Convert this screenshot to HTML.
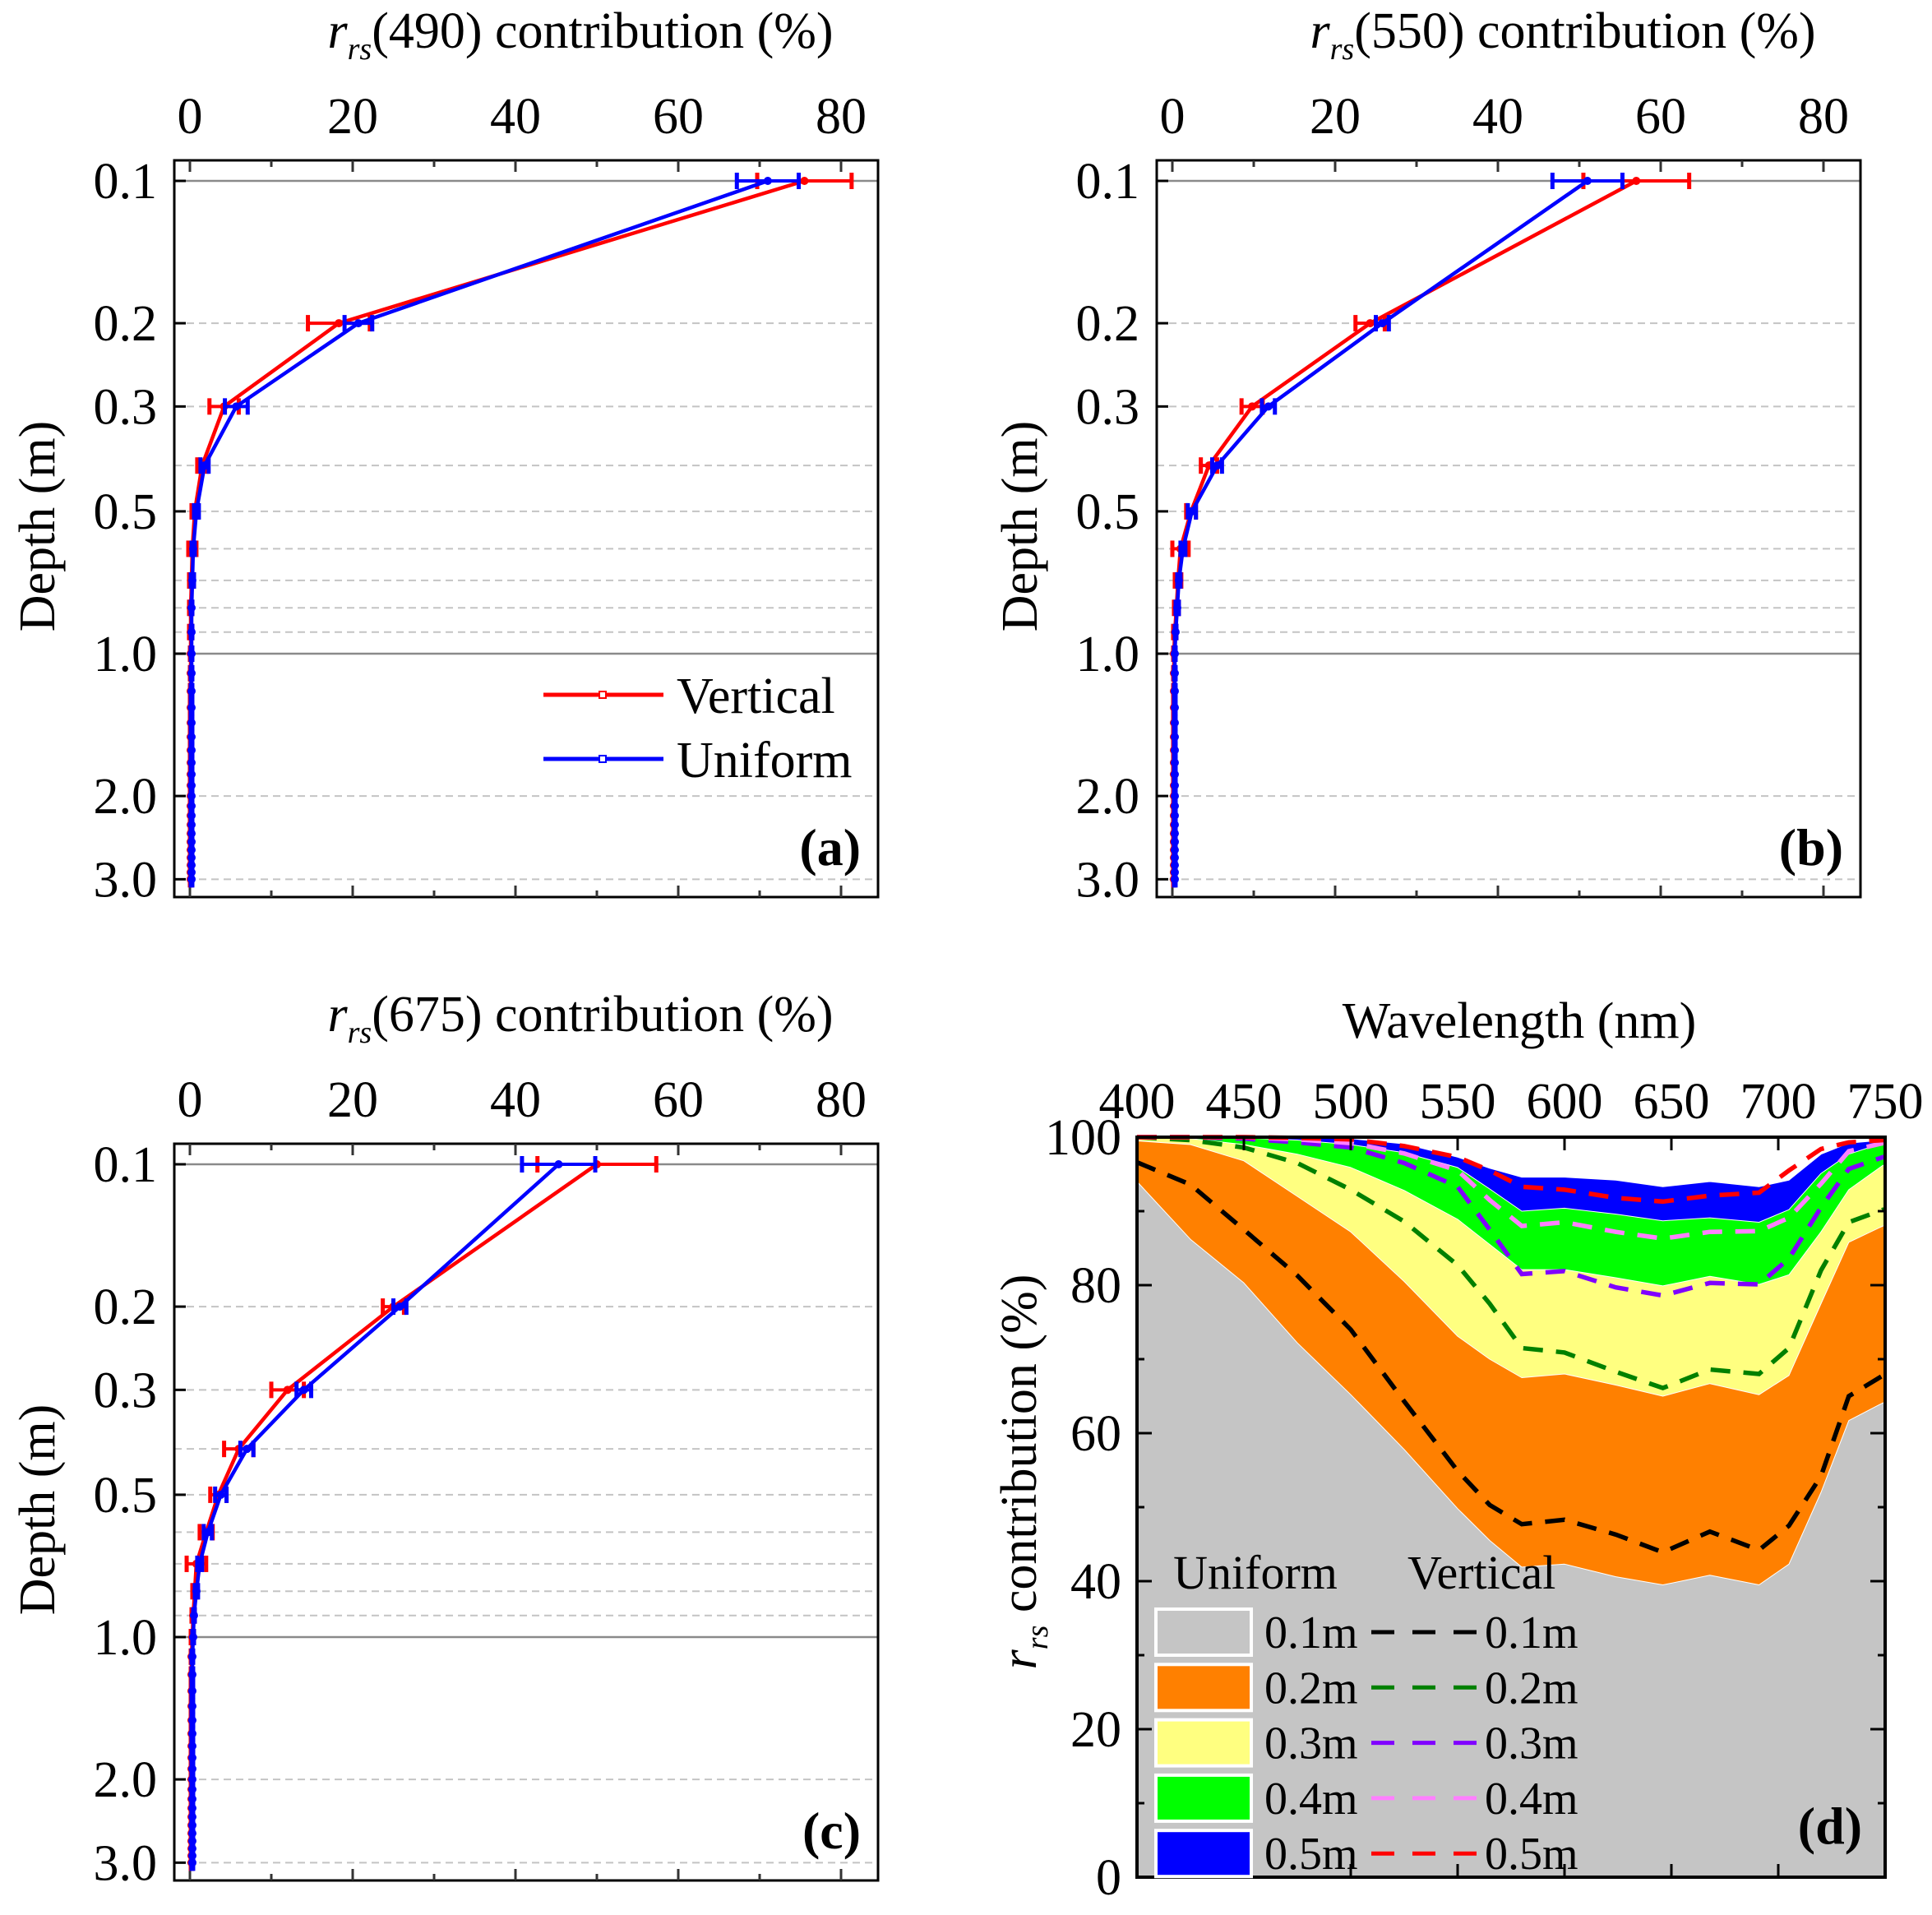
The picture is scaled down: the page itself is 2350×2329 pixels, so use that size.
<!DOCTYPE html>
<html><head><meta charset="utf-8">
<style>
html,body{margin:0;padding:0;background:#fff;}
svg{display:block;font-family:"Liberation Serif","DejaVu Serif",serif;}
</style></head>
<body>
<svg id="fig" xmlns="http://www.w3.org/2000/svg" width="2350" height="2329" viewBox="0 0 2350 2329">
<rect x="0" y="0" width="2350" height="2329" fill="#fff"/>
</svg>
<script>
// ---------- depth profile data ----------
const depths = [0.1,0.2,0.3,0.4,0.5,0.6,0.7,0.8,0.9,1.0,1.1,1.2,1.3,1.4,1.5,1.6,1.7,1.8,1.9,2.0,2.1,2.2,2.3,2.4,2.5,2.6,2.7,2.8,2.9,3.0];
const depthTickValues = [0.1,0.2,0.3,0.5,1.0,2.0,3.0];
const depthTickLabels = ["0.1","0.2","0.3","0.5","1.0","2.0","3.0"];
const contribTickValues = [0,20,40,60,80];
const contribTickLabels = ["0","20","40","60","80"];

const a490Vertical = [75.5,18.3,4.2,1.5,0.6,0.3,0.2,0.1,0.1,0.1,0.1,0.1,0.1,0.1,0.1,0.1,0.1,0.1,0.1,0.1,0.1,0.1,0.1,0.1,0.1,0.1,0.1,0.1,0.1,0.1];
const a490VerticalErr = [5.8,3.8,1.8,0.6,0.4,0.5,0.3,0.2,0.2,0.1,0.1,0.1,0.1,0.1,0.1,0.1,0.1,0.1,0.1,0.1,0.1,0.1,0.1,0.1,0.1,0.1,0.1,0.1,0.1,0.1];
const a490Uniform = [71,20.7,5.7,1.8,0.8,0.4,0.3,0.2,0.2,0.2,0.2,0.2,0.2,0.2,0.2,0.2,0.2,0.2,0.2,0.2,0.2,0.2,0.2,0.2,0.2,0.2,0.2,0.2,0.2,0.2];
const a490UniformErr = [3.8,1.7,1.4,0.5,0.3,0.2,0.2,0.1,0.1,0.1,0.1,0.1,0.1,0.1,0.1,0.1,0.1,0.1,0.1,0.1,0.1,0.1,0.1,0.1,0.1,0.1,0.1,0.1,0.1,0.1];

const b550Vertical = [57,24.3,9.8,4.5,2.3,1.0,0.7,0.5,0.3,0.2,0.2,0.2,0.2,0.2,0.2,0.2,0.2,0.2,0.2,0.2,0.2,0.2,0.2,0.2,0.2,0.2,0.2,0.2,0.2,0.2];
const b550VerticalErr = [6.5,1.8,1.3,1.0,0.6,1.0,0.4,0.3,0.2,0.1,0.1,0.1,0.1,0.1,0.1,0.1,0.1,0.1,0.1,0.1,0.1,0.1,0.1,0.1,0.1,0.1,0.1,0.1,0.1,0.1];
const b550Uniform = [51,25.8,11.8,5.5,2.4,1.3,0.8,0.6,0.4,0.3,0.3,0.3,0.3,0.3,0.3,0.3,0.3,0.3,0.3,0.3,0.3,0.3,0.3,0.3,0.3,0.3,0.3,0.3,0.3,0.3];
const b550UniformErr = [4.3,0.8,0.8,0.6,0.5,0.3,0.2,0.2,0.1,0.1,0.1,0.1,0.1,0.1,0.1,0.1,0.1,0.1,0.1,0.1,0.1,0.1,0.1,0.1,0.1,0.1,0.1,0.1,0.1,0.1];

const c675Vertical = [50,25,12,6,3.5,2,0.8,0.6,0.4,0.3,0.2,0.2,0.2,0.2,0.2,0.2,0.2,0.2,0.2,0.2,0.2,0.2,0.2,0.2,0.2,0.2,0.2,0.2,0.2,0.2];
const c675VerticalErr = [7.3,1.3,2,1.8,1,0.8,1.2,0.3,0.2,0.2,0.1,0.1,0.1,0.1,0.1,0.1,0.1,0.1,0.1,0.1,0.1,0.1,0.1,0.1,0.1,0.1,0.1,0.1,0.1,0.1];
const c675Uniform = [45.3,25.8,14,7,3.8,2.2,1.2,0.8,0.5,0.4,0.3,0.3,0.3,0.3,0.3,0.3,0.3,0.3,0.3,0.3,0.3,0.3,0.3,0.3,0.3,0.3,0.3,0.3,0.3,0.3];
const c675UniformErr = [4.5,0.8,0.9,0.8,0.7,0.5,0.3,0.2,0.1,0.1,0.1,0.1,0.1,0.1,0.1,0.1,0.1,0.1,0.1,0.1,0.1,0.1,0.1,0.1,0.1,0.1,0.1,0.1,0.1,0.1];

// ---------- spectral data (panel d) ----------
const wavelengths = [400,425,450,475,500,525,550,565,580,600,624,646,668,691,705,720,733,749];
const uniform01 = [94.0,86.2,80.3,72.2,65.2,57.8,49.8,45.5,41.9,42.3,40.6,39.5,40.8,39.5,42.3,52.0,61.7,64.1];
const uniform02 = [99.5,99.0,96.8,92.0,87.2,80.5,73.1,70.0,67.5,68.0,66.5,65.0,66.7,65.2,67.8,77.5,85.8,88.0];
const uniform03 = [100,99.8,99.0,97.7,95.9,92.8,88.9,85.5,82.1,82.1,81.0,79.9,81.2,80.1,81.4,87.2,92.9,96.2];
const uniform04 = [100,100,99.9,99.6,99.0,97.9,95.9,93.0,90.0,90.4,89.6,88.7,89.1,88.5,90.2,95.1,97.7,99.2];
const uniform05 = [100,100,100,100,99.8,99.1,97.3,95.8,94.6,94.6,94.2,93.3,94.0,93.3,94.2,97.7,99.2,99.6];
const vertical01 = [96.6,93.6,87.5,81.3,74.0,64.3,54.9,50.3,47.7,48.3,46.3,43.9,46.7,44.2,47.5,54.2,65.0,67.8];
const vertical02 = [100,99.6,98.6,96.5,92.9,88.6,82.7,77.5,71.5,70.9,68.3,66.1,68.6,68.0,71.5,82.0,88.5,90.2];
const vertical03 = [100,100,99.8,99.3,98.6,96.5,93.3,87.5,81.5,81.9,79.7,78.6,80.3,80.1,83.6,90.5,95.7,97.3];
const vertical04 = [100,100,100,99.7,99.2,97.8,95.5,91.5,88.0,88.5,87.2,86.3,87.2,87.3,89.1,93.7,98.1,99.2];
const vertical05 = [100,100,100,99.9,99.7,98.8,97.3,95.5,93.3,92.9,91.8,91.3,92.1,92.5,95.5,98.4,99.3,99.6];
const wlTickValues = [400,450,500,550,600,650,700,750];
const wlTickLabels = ["400","450","500","550","600","650","700","750"];
const pctTickValues = [0,20,40,60,80,100];
const pctTickLabels = ["0","20","40","60","80","100"];
const legendDepthLabels = ["0.1m","0.2m","0.3m","0.4m","0.5m"];

const NS = "http://www.w3.org/2000/svg";
const svg = document.getElementById("fig");
function mk(tag, attrs, parent) {
  const e = document.createElementNS(NS, tag);
  for (const k in attrs) e.setAttribute(k, attrs[k]);
  (parent || svg).appendChild(e);
  return e;
}

function depthPanel(ox, oy, wl, vertical, vErr, uniform, uErr, tag, withLegend) {
  const g = mk("g", {});
  
  
  const L = 212 + ox, R = 1068 + ox, T = 195 + oy, B = 1091 + oy;
  const xS = v => 231 + ox + v * 9.9;
  const yS = d => 795 + oy + 575 * Math.log10(d);
  [0.2,0.3,0.4,0.5,0.6,0.7,0.8,0.9,2,3].forEach(d => {
    const ln = mk("line", {x1:L, x2:R, y1:yS(d), y2:yS(d), stroke:"#c4c4c4", "stroke-width":2, "stroke-dasharray":"9,6"}, g);
    
    
  });
  [0.1,1.0].forEach(d => {
    const ln = mk("line", {x1:L, x2:R, y1:yS(d), y2:yS(d), stroke:"#8a8a8a", "stroke-width":2.5}, g);
    
    
  });
  const fr = mk("rect", {x:L, y:T, width:R-L, height:B-T, fill:"none", stroke:"#000", "stroke-width":3}, g);
  
  
  for (let v = 0; v <= 80; v += 10) {
    const len = v % 20 === 0 ? 14 : 8;
    mk("line", {x1:xS(v), x2:xS(v), y1:T, y2:T+len, stroke:"#333", "stroke-width":3}, g);
    mk("line", {x1:xS(v), x2:xS(v), y1:B, y2:B-len, stroke:"#333", "stroke-width":3}, g);
  }
  contribTickValues.forEach((v, i) => {
    const t = mk("text", {x:xS(v), y:162+oy, "font-size":62, "text-anchor":"middle"}, g);
    t.textContent = contribTickLabels[i];
    
    
  });
  depthTickValues.forEach((d, i) => {
    mk("line", {x1:L, x2:L+14, y1:yS(d), y2:yS(d), stroke:"#000", "stroke-width":3}, g);
    const t = mk("text", {x:191+ox, y:yS(d)+21, "font-size":62, "text-anchor":"end"}, g);
    t.textContent = depthTickLabels[i];
    
    
  });
  const tt = mk("text", {x:706+ox, y:58+oy, "font-size":62, "text-anchor":"middle"}, g);
  tt.innerHTML = '<tspan font-style="italic">r</tspan><tspan font-style="italic" font-size="38" dy="14">rs</tspan><tspan dy="-14">(' + wl + ') contribution (%)</tspan>';
  
  
  const yt = mk("text", {x:0, y:0, "font-size":62, "text-anchor":"middle", transform:"translate(" + (66+ox) + "," + (640+oy) + ") rotate(-90)"}, g);
  yt.textContent = "Depth (m)";
  
  
  function series(vals, errs, color, name) {
    const sg = mk("g", {}, g);
    
    
    vals.forEach((v, i) => {
      const y = yS(depths[i]);
      const e = errs[i];
      mk("line", {x1:xS(v-e), x2:xS(v+e), y1:y, y2:y, stroke:color, "stroke-width":4}, sg);
      mk("line", {x1:xS(v-e), x2:xS(v-e), y1:y-10, y2:y+10, stroke:color, "stroke-width":5}, sg);
      mk("line", {x1:xS(v+e), x2:xS(v+e), y1:y-10, y2:y+10, stroke:color, "stroke-width":5}, sg);
    });
    const pts = vals.map((v, i) => xS(v).toFixed(1) + "," + yS(depths[i]).toFixed(1)).join(" ");
    const pl = mk("polyline", {points:pts, fill:"none", stroke:color, "stroke-width":4.5, "stroke-linejoin":"round"}, sg);
    
    
    vals.forEach((v, i) => {
      const c = mk("circle", {cx:xS(v), cy:yS(depths[i]), r:5, fill:color}, sg);
      
      
    });
  }
  series(vertical, vErr, "#ff0000", "vertical");
  series(uniform, uErr, "#0000ff", "uniform");
  const pl = mk("text", {x:1047+ox, y:1052+oy, "font-size":64, "font-weight":"bold", "text-anchor":"end"}, g);
  pl.textContent = "(" + tag + ")";
  
  
  if (withLegend) {
    const lg = mk("g", {}, g);
    
    
    [["Vertical","#ff0000",845],["Uniform","#0000ff",923]].forEach(r => {
      mk("line", {x1:661+ox, x2:807+ox, y1:r[2]+oy, y2:r[2]+oy, stroke:r[1], "stroke-width":5}, lg);
      mk("rect", {x:729+ox, y:r[2]-4+oy, width:8, height:8, fill:"#fff", stroke:r[1], "stroke-width":2}, lg);
      const t = mk("text", {x:823+ox, y:r[2]+22+oy, "font-size":62}, lg);
      t.textContent = r[0];
      
      
    });
  }
}

depthPanel(0, 0, "490", a490Vertical, a490VerticalErr, a490Uniform, a490UniformErr, "a", true);
depthPanel(1195, 0, "550", b550Vertical, b550VerticalErr, b550Uniform, b550UniformErr, "b", false);
depthPanel(0, 1196, "675", c675Vertical, c675VerticalErr, c675Uniform, c675UniformErr, "c", false);

// ---------- panel d ----------
(function () {
  const g = mk("g", {});
  
  
  const L = 1383, R = 2293, T = 1383, B = 2283;
  const xS = w => L + (w - 400) * 2.6;
  const yS = v => B - v * 9;
  function area(vals, color, name) {
    let d = "M" + xS(wavelengths[0]) + "," + B;
    vals.forEach((v, i) => { d += " L" + xS(wavelengths[i]).toFixed(1) + "," + yS(v).toFixed(1); });
    d += " L" + R + "," + yS(vals[vals.length-1]).toFixed(1) + " L" + R + "," + B + " Z";
    const p = mk("path", {d:d, fill:color, stroke:"#fff", "stroke-width":1, "stroke-linejoin":"round"}, g);
    
    
  }
  area(uniform05, "#0000ff", "uniform-0.5m-area");
  area(uniform04, "#00ff00", "uniform-0.4m-area");
  area(uniform03, "#ffff80", "uniform-0.3m-area");
  area(uniform02, "#ff8000", "uniform-0.2m-area");
  area(uniform01, "#c5c5c5", "uniform-0.1m-area");
  function dline(vals, color, name) {
    const pts = vals.map((v, i) => xS(wavelengths[i]).toFixed(1) + "," + yS(v).toFixed(1));
    pts.push(R + "," + yS(vals[vals.length-1]).toFixed(1));
    const p = mk("polyline", {points:pts.join(" "), fill:"none", stroke:color, "stroke-width":5.5, "stroke-dasharray":"24,16"}, g);
    
    
  }
  dline(vertical01, "#000000", "vertical-0.1m-line");
  dline(vertical02, "#008000", "vertical-0.2m-line");
  dline(vertical03, "#8000ff", "vertical-0.3m-line");
  dline(vertical04, "#ff80ff", "vertical-0.4m-line");
  dline(vertical05, "#ff0000", "vertical-0.5m-line");
  const fr = mk("rect", {x:L, y:T, width:R-L, height:B-T, fill:"none", stroke:"#000", "stroke-width":4}, g);
  
  
  for (let w = 400; w <= 750; w += 50) {
    mk("line", {x1:xS(w), x2:xS(w), y1:T, y2:T+16, stroke:"#000", "stroke-width":3}, g);
    mk("line", {x1:xS(w), x2:xS(w), y1:B, y2:B-16, stroke:"#000", "stroke-width":3}, g);
  }
  for (let v = 0; v <= 100; v += 10) {
    const len = v % 20 === 0 ? 18 : 9;
    mk("line", {x1:L, x2:L+len, y1:yS(v), y2:yS(v), stroke:"#000", "stroke-width":3}, g);
    mk("line", {x1:R, x2:R-len, y1:yS(v), y2:yS(v), stroke:"#000", "stroke-width":3}, g);
  }
  wlTickValues.forEach((w, i) => {
    const t = mk("text", {x:xS(w), y:1360, "font-size":62, "text-anchor":"middle"}, g);
    t.textContent = wlTickLabels[i];
    
    
  });
  pctTickValues.forEach((v, i) => {
    const t = mk("text", {x:1364, y:yS(v)+21, "font-size":62, "text-anchor":"end"}, g);
    t.textContent = pctTickLabels[i];
    
    
  });
  const xt = mk("text", {x:1848, y:1262, "font-size":62, "text-anchor":"middle"}, g);
  xt.textContent = "Wavelength (nm)";
  
  
  const yt = mk("text", {x:0, y:0, "font-size":62, "text-anchor":"middle", transform:"translate(1260,1790) rotate(-90)"}, g);
  yt.innerHTML = '<tspan font-style="italic">r</tspan><tspan font-style="italic" font-size="38" dy="14">rs</tspan><tspan dy="-14"> contribution (%)</tspan>';
  
  
  const lg = mk("g", {}, g);
  
  
  const h1 = mk("text", {x:1527, y:1932, "font-size":58, "text-anchor":"middle"}, lg);
  h1.textContent = "Uniform";
  
  
  const h2 = mk("text", {x:1712, y:1932, "font-size":58}, lg);
  h2.textContent = "Vertical";
  
  
  const fills = ["#c5c5c5","#ff8000","#ffff80","#00ff00","#0000ff"];
  const dashes = ["#000000","#008000","#8000ff","#ff80ff","#ff0000"];
  legendDepthLabels.forEach((lab, i) => {
    const cy = 1985 + i * 67.3;
    const sw = mk("rect", {x:1406, y:cy-28, width:116, height:56, fill:fills[i], stroke:"#fff", "stroke-width":4}, lg);
    
    
    const t1 = mk("text", {x:1538, y:cy+19, "font-size":56}, lg);
    t1.textContent = lab;
    
    
    mk("line", {x1:1668, x2:1802, y1:cy, y2:cy, stroke:dashes[i], "stroke-width":5, "stroke-dasharray":"28,22"}, lg);
    const t2 = mk("text", {x:1806, y:cy+19, "font-size":56}, lg);
    t2.textContent = lab;
    
    
  });
  const pl = mk("text", {x:2265, y:2242, "font-size":64, "font-weight":"bold", "text-anchor":"end"}, g);
  pl.textContent = "(d)";
  
  
})();
</script>
</body></html>
